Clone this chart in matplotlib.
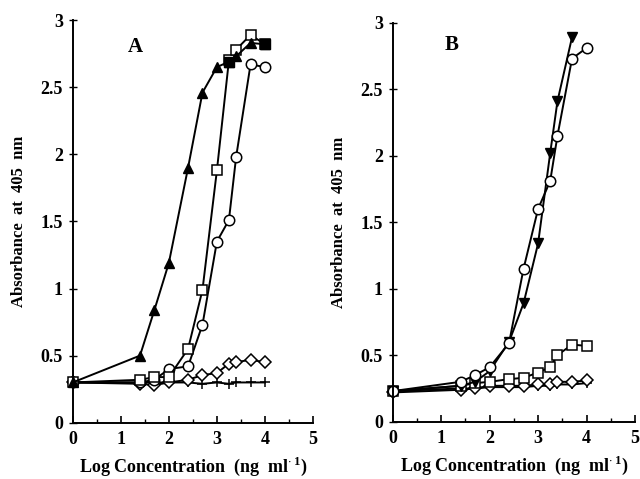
import matplotlib
matplotlib.use("Agg")
import matplotlib.pyplot as plt
from matplotlib.ticker import MultipleLocator

plt.rcParams['font.family'] = 'Liberation Serif'
plt.rcParams['font.weight'] = 'bold'
plt.rcParams['mathtext.fontset'] = 'custom'
plt.rcParams['mathtext.rm'] = 'Liberation Serif:bold'
plt.rcParams['mathtext.bf'] = 'Liberation Serif:bold'

# log concentration (0 = no antibody)
log_conc = [0, 1.4, 1.7, 2.0, 2.4, 2.7, 3.0, 3.25, 3.4, 3.7, 4.0]

# panel A
a_tri = [0.30, 0.50, 0.84, 1.19, 1.90, 2.46, 2.65, 2.69, 2.73, 2.83, 2.82]
a_sq = [0.30, 0.32, 0.34, 0.34, 0.55, 0.99, 1.88, 2.70, 2.78, 2.89, 2.82]
a_circ = [0.30, 0.30, 0.32, 0.40, 0.42, 0.73, 1.35, 1.51, 1.98, 2.67, 2.65]
a_diam = [0.30, 0.29, 0.28, 0.30, 0.32, 0.355, 0.37, 0.44, 0.45, 0.47, 0.45]
a_plus = [0.30, 0.30, 0.30, 0.30, 0.30, 0.29, 0.30, 0.29, 0.30, 0.30, 0.30]
a_fsq_x = [3.25, 4.0]
a_fsq = [2.69, 2.82]

# panel B
b_tri_x = log_conc[:10]
b_tri = [0.23, 0.27, 0.30, 0.38, 0.60, 0.89, 1.34, 2.02, 2.41, 2.89]
b_circ = [0.23, 0.30, 0.35, 0.41, 0.59, 1.15, 1.60, 1.81, 2.15, 2.73, 2.81]
b_sq = [0.23, 0.27, 0.29, 0.30, 0.32, 0.33, 0.37, 0.41, 0.50, 0.58, 0.57]
b_diam = [0.22, 0.24, 0.25, 0.27, 0.27, 0.27, 0.28, 0.28, 0.30, 0.30, 0.31]
b_plus = [0.23, 0.25, 0.25, 0.26, 0.26, 0.26, 0.27, 0.27, 0.28, 0.28, 0.29]

fig = plt.figure(figsize=(6.4, 4.79), dpi=100)
axA = fig.add_axes([0.1136, 0.1175, 0.3755, 0.8405])
axB = fig.add_axes([0.6136, 0.1196, 0.3786, 0.833])

ms = 7.5
lw = 1.4
open_kw = dict(color='black', mfc='white', mec='black', mew=1.1, lw=lw, ms=ms, clip_on=False)
fill_kw = dict(color='black', mfc='black', mec='black', lw=lw, ms=ms, clip_on=False)

# A
axA.plot(log_conc, a_plus, marker='+', mew=1.1, color='black', lw=lw, ms=ms, clip_on=False)
axA.plot(log_conc, a_diam, marker='D', **dict(open_kw, ms=6))
axA.plot(log_conc, a_circ, marker='o', **open_kw)
axA.plot(log_conc, a_sq, marker='s', **open_kw)
axA.plot(log_conc, a_tri, marker='^', **fill_kw)
axA.plot(a_fsq_x, a_fsq, marker='s', ls='none', color='black', ms=7, clip_on=False)
axA.text(1.3, 2.8, 'A', fontsize=15, fontweight='bold', ha='center', va='center')

# B
axB.plot(log_conc, b_plus, marker='+', mew=1.1, color='black', lw=lw, ms=ms, clip_on=False)
axB.plot(log_conc, b_diam, marker='D', **dict(open_kw, ms=6))
axB.plot(log_conc, b_sq, marker='s', **open_kw)
axB.plot(b_tri_x, b_tri, marker='v', **fill_kw)
axB.plot(log_conc, b_circ, marker='o', **open_kw)
axB.text(1.22, 2.83, 'B', fontsize=15, fontweight='bold', ha='center', va='center')

for ax in (axA, axB):
    ax.set_xlim(0, 5)
    ax.set_ylim(0, 3)
    for s in ('top', 'right'):
        ax.spines[s].set_visible(False)
    for s in ('left', 'bottom'):
        ax.spines[s].set_linewidth(1.4)
    ax.xaxis.set_major_locator(MultipleLocator(1))
    ax.xaxis.set_minor_locator(MultipleLocator(0.5))
    ax.set_yticks([0, 0.5, 1, 1.5, 2, 2.5, 3])
    ax.set_yticklabels(['0', '0.5', '1', '1.5', '2', '2.5', '3'])
    ax.tick_params(axis='x', which='major', direction='in', length=5, width=1.2, labelsize=13, pad=6)
    ax.tick_params(axis='x', which='minor', direction='in', length=3, width=1.0)
    ax.tick_params(axis='y', which='major', direction='inout', length=6, width=1.0, labelsize=13, pad=4)
    ax.set_xlabel(r'Log Concentration  (ng  ml$^{\cdot\,1}$)', fontsize=13, fontweight='bold', labelpad=5)
    ax.set_ylabel('Absorbance  at  405  nm', fontsize=12, fontweight='bold', labelpad=10)

fig.savefig('out.png', dpi=100)
